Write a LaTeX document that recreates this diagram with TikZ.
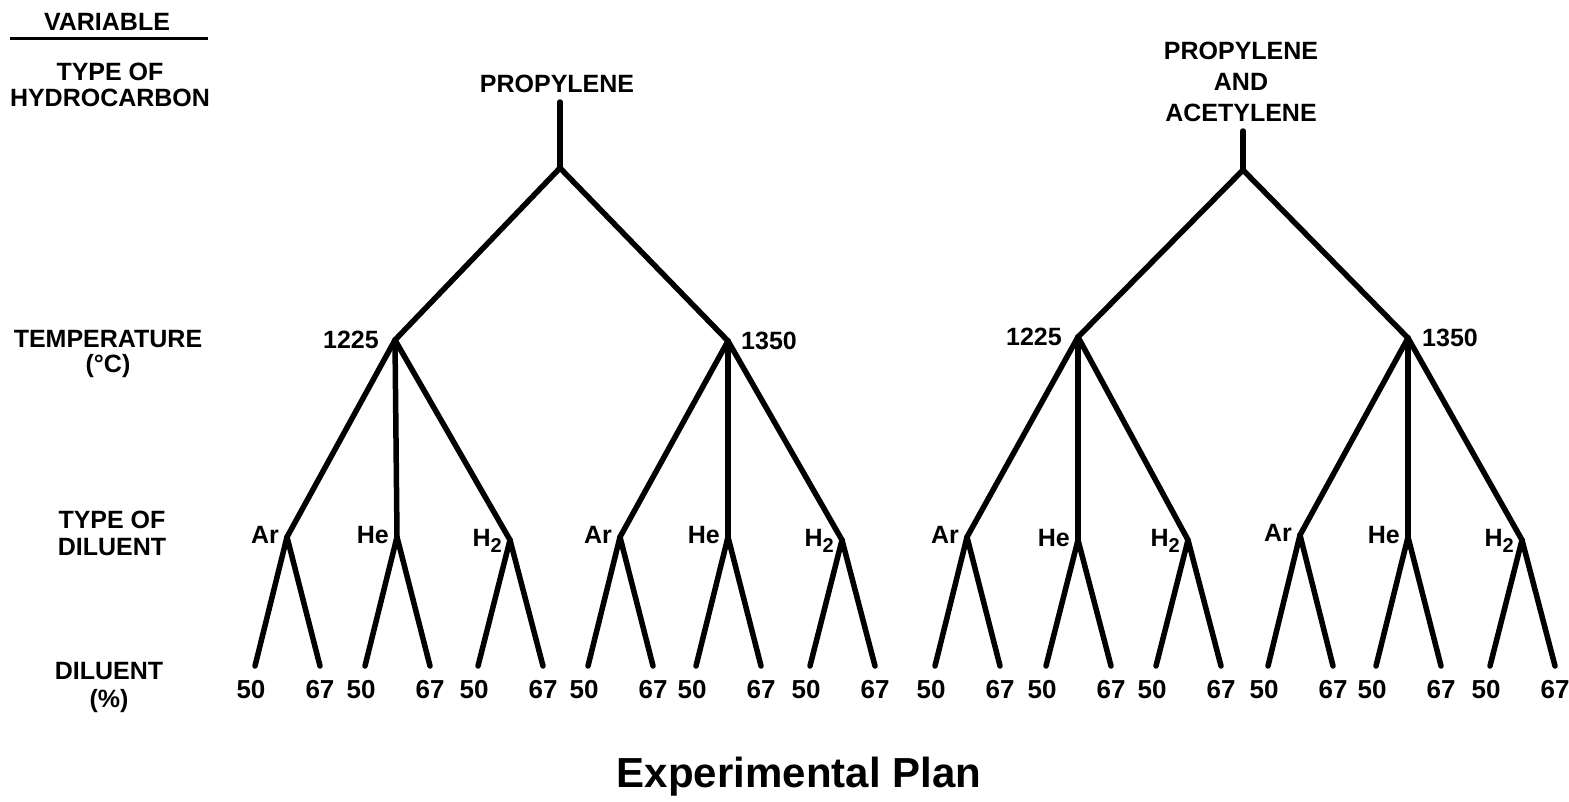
\documentclass[tikz,border=0pt]{standalone}
\usepackage{fontspec}
\setmainfont{Liberation Sans}
\newcommand{\hydrogen}{H\raisebox{-6pt}{\fontsize{20}{20}\selectfont 2}}
\begin{document}
\begin{tikzpicture}[x=1pt,y=-1pt,
  branch/.style={line width=5.5pt, line cap=round, line join=round},
  rule/.style={line width=3pt},
  lbl/.style={font=\fontsize{25}{26}\selectfont\bfseries, inner sep=0pt, align=center},
  leaflbl/.style={font=\fontsize{26}{28}\selectfont\bfseries, inner sep=0pt},
  titlelbl/.style={font=\fontsize{42}{50}\selectfont\bfseries, inner sep=0pt}]
\useasboundingbox (0,0) rectangle (1569,801);

% ---- variable column ----
\node[lbl] (var) at (107,22) {VARIABLE};
\coordinate (ulA) at (10,38);
\coordinate (ulB) at (208,38);
\draw[rule] (ulA) -- (ulB);
\node[lbl] (vHC) at (110,85) {TYPE OF\\HYDROCARBON};
\node[lbl, font=\fontsize{25}{25}\selectfont\bfseries] (vTemp) at (108,354) {TEMPERATURE\\(°C)};
\node[lbl, font=\fontsize{25}{27}\selectfont\bfseries] (vDil) at (112,533) {TYPE OF\\DILUENT};
\node[lbl, font=\fontsize{25}{28}\selectfont\bfseries] (vPct) at (109,687) {DILUENT\\(\%)};

% ---- hydrocarbon roots ----
\node[lbl] (rootL) at (557,84) {PROPYLENE};
\node[lbl, font=\fontsize{25}{31}\selectfont\bfseries] (rootR) at (1241,82) {PROPYLENE\\AND\\ACETYLENE};
\coordinate (stemL) at (560,102);
\coordinate (jL) at (560,168);
\coordinate (stemR) at (1243,131);
\coordinate (jR) at (1243,170);
\draw[branch] (stemL) -- (jL);
\draw[branch] (stemR) -- (jR);

% ---- temperatures ----
\coordinate (L-1225) at (395,340);
\coordinate (L-1350) at (728,341);
\coordinate (R-1225) at (1078,337);
\coordinate (R-1350) at (1408,338);
\draw[branch] (jL) -- (L-1225);
\draw[branch] (jL) -- (L-1350);
\draw[branch] (jR) -- (R-1225);
\draw[branch] (jR) -- (R-1350);
\node[lbl, anchor=east] (L-1225-lab) at ([xshift=-16pt]L-1225) {1225};
\node[lbl, anchor=west] (L-1350-lab) at ([xshift=13pt]L-1350) {1350};
\node[lbl, anchor=east] (R-1225-lab) at ([xshift=-16pt]R-1225) {1225};
\node[lbl, anchor=west] (R-1350-lab) at ([xshift=14pt]R-1350) {1350};

% ---- diluents and their percentages ----
\foreach \n/\x/\y/\p/\g in {
  L-1225-Ar/287/537/L-1225/Ar, L-1225-He/397/537/L-1225/He, L-1225-H2/510/540/L-1225/\hydrogen,
  L-1350-Ar/620/537/L-1350/Ar, L-1350-He/728/537/L-1350/He, L-1350-H2/842/540/L-1350/\hydrogen,
  R-1225-Ar/967/537/R-1225/Ar, R-1225-He/1078/540/R-1225/He, R-1225-H2/1188/540/R-1225/\hydrogen,
  R-1350-Ar/1300/535/R-1350/Ar, R-1350-He/1408/537/R-1350/He, R-1350-H2/1522/540/R-1350/\hydrogen} {
  \coordinate (\n) at (\x,\y);
  \draw[branch] (\p) -- (\n);
  \node[lbl, anchor=base east] (\n-lab) at ([xshift=-8pt, yshift=-6pt]\n) {\g};
  \coordinate (\n-50) at ({\x-32},666);
  \coordinate (\n-67) at ({\x+33},666);
  \draw[branch] (\n) -- (\n-50);
  \draw[branch] (\n) -- (\n-67);
  \node[leaflbl] (\n-50-lab) at ({\x-36},690) {50};
  \node[leaflbl] (\n-67-lab) at ({\x+33},690) {67};
}

% ---- caption ----
\node[titlelbl, anchor=base] (title) at (799,787) {Experimental Plan};
\end{tikzpicture}
\end{document}
